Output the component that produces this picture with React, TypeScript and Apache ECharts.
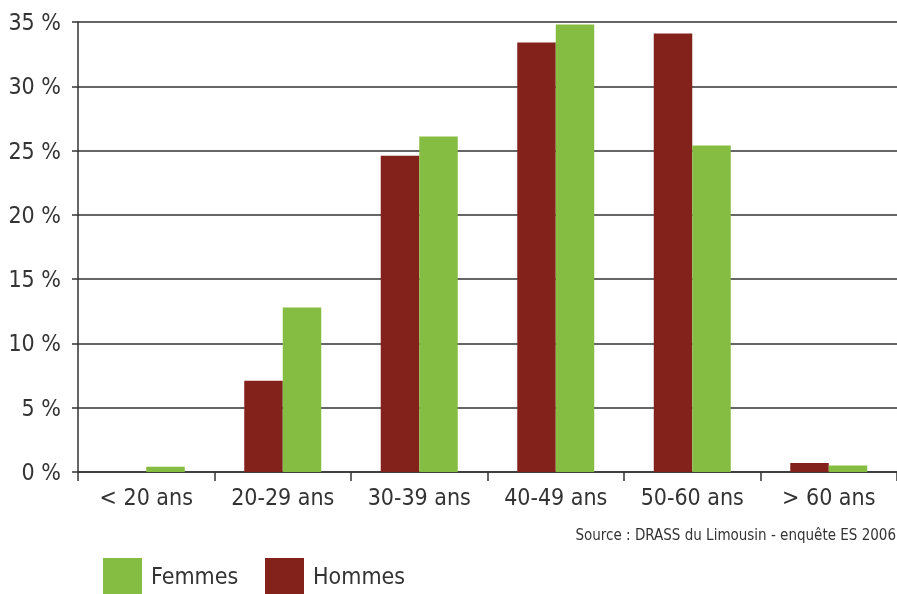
import React, { useEffect, useRef } from "react";
import * as echarts from "echarts";

const categories = ["< 20 ans", "20-29 ans", "30-39 ans", "40-49 ans", "50-60 ans", "> 60 ans"];
const hommes = [0, 7.1, 24.6, 33.4, 34.1, 0.7];
const femmes = [0.4, 12.8, 26.1, 34.8, 25.4, 0.5];
const sourceText = "Source : DRASS du Limousin - enquête ES 2006";

const FONT = "'Liberation Sans Narrow', 'DejaVu Sans Condensed', 'Roboto', sans-serif";
const TXT = "#333333";

export default function App() {
  const ref = useRef<HTMLDivElement>(null);
  useEffect(() => {
    if (!ref.current) return;
    const chart = echarts.init(ref.current, undefined, { renderer: "svg" });
    const legendBase = {
      top: 553,
      itemWidth: 39,
      itemHeight: 36,
      icon: "rect",
      textStyle: { fontFamily: FONT, fontSize: 23, color: TXT, padding: [0, 0, 0, 4] },
    };
    chart.setOption({
      animation: false,
      textStyle: { fontFamily: FONT },
      grid: { left: 78, top: 22, width: 822, height: 450, containLabel: false },
      legend: [
        { ...legendBase, left: 98, data: ["Femmes"] },
        { ...legendBase, left: 260, data: ["Hommes"] },
      ],
      graphic: [
        {
          type: "text",
          right: 1,
          top: 527,
          style: { text: sourceText, font: `15px ${FONT}`, fill: TXT },
        },
      ],
      xAxis: {
        type: "category",
        data: categories,
        axisLine: { lineStyle: { color: TXT, width: 1.5 } },
        axisTick: { show: true, length: 9, lineStyle: { color: TXT, width: 1.5 } },
        axisLabel: { fontFamily: FONT, fontSize: 23, color: TXT, margin: 13 },
      },
      yAxis: {
        type: "value",
        min: 0,
        max: 35,
        interval: 5,
        axisLine: { show: true, lineStyle: { color: TXT, width: 1.5 } },
        axisTick: { show: true, length: 6, lineStyle: { color: TXT, width: 1.5 } },
        splitLine: { lineStyle: { color: TXT, width: 1.5 } },
        axisLabel: { fontFamily: FONT, fontSize: 23, color: TXT, margin: 17, formatter: "{value} %" },
      },
      series: [
        {
          name: "Hommes",
          type: "bar",
          data: hommes,
          barWidth: 38.5,
          barGap: "0%",
          itemStyle: { color: "#83221B" },
        },
        {
          name: "Femmes",
          type: "bar",
          data: femmes,
          barWidth: 38.5,
          barGap: "0%",
          itemStyle: { color: "#84BD41" },
        },
      ],
    });
    return () => chart.dispose();
  }, []);
  return <div ref={ref} style={{ position: "fixed", left: 0, top: 0, width: 897, height: 594 }} />;
}
